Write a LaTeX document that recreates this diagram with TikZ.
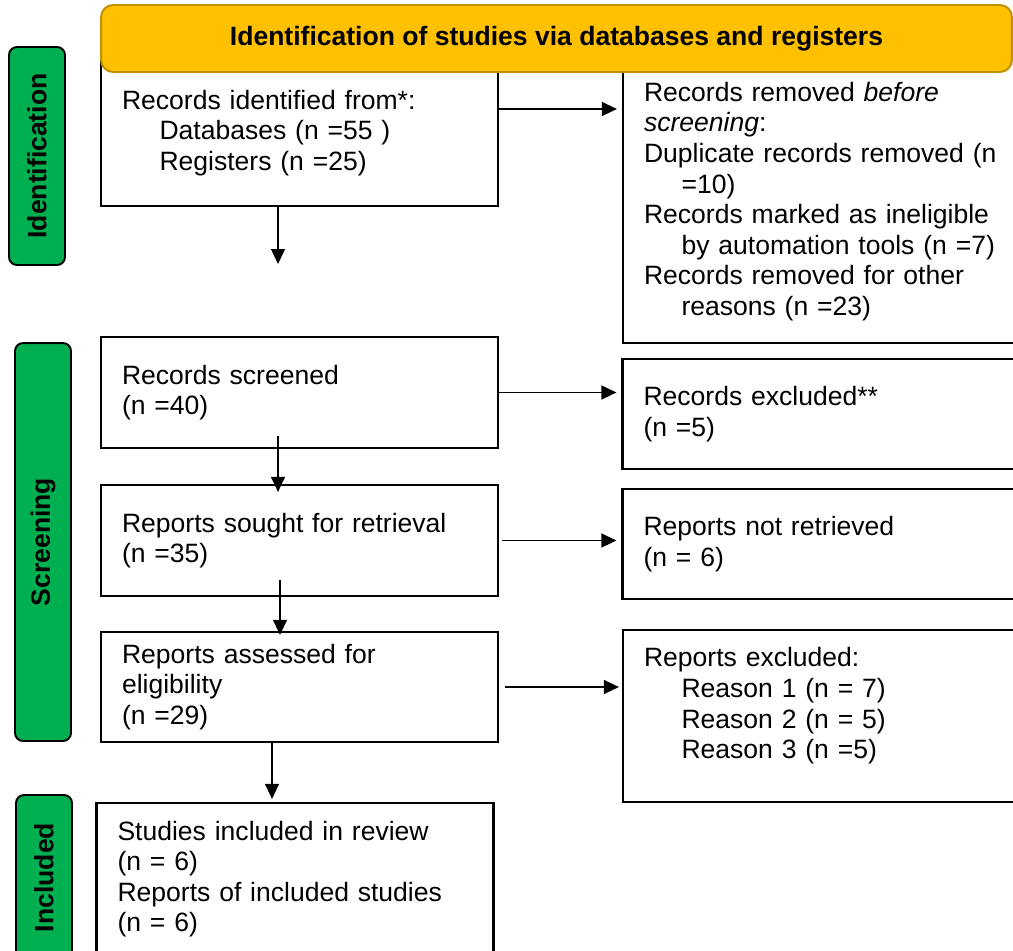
\documentclass[tikz,border=0pt]{standalone}
\usepackage{fontspec}
\setsansfont{Liberation Sans}
\usetikzlibrary{arrows.meta,positioning}

\definecolor{bannerfill}{RGB}{255,192,0}
\definecolor{bannerline}{RGB}{191,144,0}
\definecolor{stagegreen}{RGB}{0,176,80}
\newcommand\flowfont{\sffamily\fontsize{15.1pt}{17.4pt}\selectfont}
\newcommand\ind{\hspace*{0.75cm}}

\tikzset{
  recbox/.style={draw=black, line width=1.3pt, fill=white, align=left,
                 inner xsep=0.42cm, inner ysep=0pt},
  leftbox/.style={recbox, text width=7.1cm},
  rightbox/.style={recbox, text width=7.7cm},
  stagelbl/.style={draw=black, fill=stagegreen, line width=1.1pt,
                   rounded corners=0.16cm, rotate=90, minimum height=1.12cm,
                   inner sep=0pt, font=\flowfont\bfseries},
  flow/.style={draw=black, line width=0.75pt, ->}
}

\begin{document}
\begin{tikzpicture}[x=0.02cm, y=-0.02cm,            % one unit = one pixel
                    >={Triangle[length=0.3cm,width=0.28cm]},
                    font=\flowfont
                    ]

\fill[white, use as bounding box] (0,0) rectangle (1013,950);
\clip (0,0) rectangle (1013,950);

% Identification
\node[leftbox, minimum height=2.92cm] (idn) at (299.5,133)
  {Records identified from*:\\ \ind Databases (n =55 )\\ \ind Registers (n =25)};
\node[rightbox, minimum height=5.66cm] (removed) at (836.5,201.5)
  {Records removed \textit{before}\\ \textit{screening}:\\
   Duplicate records removed (n\\ \ind =10)\\
   Records marked as ineligible\\ \ind by automation tools (n =7)\\
   Records removed for other\\ \ind reasons (n =23)};

% banner on top of the first row
\node[draw=bannerline, fill=bannerfill, line width=1.1pt, rounded corners=0.24cm,
      minimum width=18.22cm, minimum height=1.34cm, font=\flowfont\bfseries]
      (banner) at (556.5,38.5) {Identification of studies via databases and registers};

% Screening
\node[leftbox, minimum height=2.22cm] (screened) at (299.5,392.5)
  {Records screened\\ (n =40)};
\node[rightbox, minimum height=2.2cm] (excluded) at (836,414)
  {Records excluded**\\ (n =5)};

\node[leftbox, minimum height=2.22cm] (sought) at (299.5,540.5)
  {Reports sought for retrieval\\ (n =35)};
\node[rightbox, minimum height=2.2cm] (notretr) at (836,544)
  {Reports not retrieved\\ (n = 6)};

\node[leftbox, minimum height=2.2cm] (assessed) at (299.5,687)
  {Reports assessed for\\ eligibility\\ (n =29)};
\node[rightbox, minimum height=3.44cm, text depth=2.35cm] (repexcl) at (836.5,716)
  {Reports excluded:\\ \ind Reason 1 (n = 7)\\ \ind Reason 2 (n = 5)\\ \ind Reason 3 (n =5)};

% Included
\node[leftbox, minimum height=3.04cm] (included) at (295,879)
  {Studies included in review\\ (n = 6)\\ Reports of included studies\\ (n = 6)};

% stage labels
\node[stagelbl, minimum width=4.36cm] (lblident) at (37,156) {Identification};
\node[stagelbl, minimum width=7.96cm] (lblscreen) at (43,542) {Screening};
\node[stagelbl, minimum width=3.3cm] (lblincl) at (44,877.5) {Included};

% connectors
\coordinate (idnend) at (278,264);
\draw[flow] (idn.south -| idnend) -- (idnend);

\coordinate (idnout) at ([yshift=0.48cm]idn.east);
\draw[flow, shorten >=0.1cm] (idnout) -- (idnout -| removed.west);
\draw[flow, shorten >=0.1cm] (screened.east) -- (screened.east -| excluded.west);
\draw[flow, shorten <=0.06cm, shorten >=0.1cm] (sought.east) -- (sought.east -| notretr.west);
\draw[flow, shorten <=0.12cm, shorten >=0.06cm] (assessed.east) -- (assessed.east -| repexcl.west);

\draw[flow, shorten <=-0.26cm, shorten >=-0.16cm]
  ([xshift=-0.43cm]screened.south) -- ([xshift=-0.43cm]sought.north);
\draw[flow, shorten <=-0.34cm, shorten >=-0.08cm]
  ([xshift=-0.39cm]sought.south) -- ([xshift=-0.39cm]assessed.north);
\coordinate (down) at ([xshift=-0.55cm]assessed.south);
\draw[flow, shorten >=0.06cm] (down) -- (down |- included.north);

\end{tikzpicture}
\end{document}
